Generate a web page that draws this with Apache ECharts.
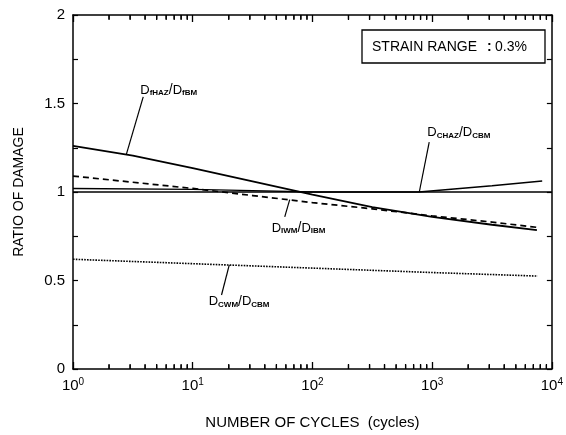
<!DOCTYPE html>
<html><head><meta charset="utf-8">
<script src="https://cdn.jsdelivr.net/npm/echarts@6/dist/echarts.min.js"></script>
<style>html,body{margin:0;padding:0;background:#fff}#c{width:566px;height:435px}</style>
</head><body><div id="c"></div>
<script>
// ---- data ----
const fHAZ_x = [1, 3.162, 10, 31.62, 100, 316.2, 1000, 3162, 7500];
const fHAZ_y = [1.26, 1.205, 1.135, 1.06, 0.985, 0.915, 0.86, 0.815, 0.785];
const IWM_x = [1, 3.162, 10, 31.62, 100, 316.2, 1000, 3162, 7600];
const IWM_y = [1.09, 1.055, 1.02, 0.98, 0.94, 0.905, 0.865, 0.83, 0.80];
const CHAZ_x = [1, 10, 31.62, 100, 316.2, 776, 3162, 8300];
const CHAZ_y = [1.02, 1.015, 1.008, 1.0, 1.0, 1.0, 1.035, 1.062];
const CWM_x = [1, 10, 100, 1000, 7600];
const CWM_y = [0.62, 0.595, 0.57, 0.545, 0.525];
const REF_x = [1, 10000];
const REF_y = [1, 1];
const xMinorTicks = [];
[1, 10, 100, 1000].forEach(d => { for (let k = 2; k <= 9; k++) xMinorTicks.push(d * k); });
const yTickLabels = ['0', '0.5', '1', '1.5', '2'];
// annotations: [anchorX, anchorY, endX, endY, textX, textY, num, den]
const annotations = [
  [2.79, 1.213, 3.86, 1.537, 6.3, 1.576, 'fHAZ', 'fBM'],
  [64.6, 0.957, 58.7, 0.859, 76.6, 0.797, 'IWM', 'IBM'],
  [20.2, 0.588, 17.4, 0.418, 24.4, 0.379, 'CWM', 'CBM'],
  [781, 1.0, 945, 1.282, 1672, 1.335, 'CHAZ', 'CBM']
];

const zip = (a, b) => a.map((v, i) => [v, b[i]]);
const FONT = 'Liberation Sans, Arial, sans-serif';
const chart = echarts.init(document.getElementById('c'));
const axisLine = { show: true, onZero: false, lineStyle: { color: '#000', width: 1.5 } };
const supFmt = v => { const e = Math.round(Math.log10(v)); return '10{s|' + e + '}'; };

chart.setOption({
  animation: false,
  backgroundColor: '#fff',
  grid: { left: 73, right: 9, top: 15, bottom: 66 },
  xAxis: [
    { type: 'log', logBase: 10, min: 1, max: 10000, position: 'bottom',
      axisLine: axisLine, splitLine: { show: false },
      axisTick: { inside: true, length: 7, lineStyle: { color: '#000', width: 1.3 } },
      axisLabel: { formatter: supFmt, margin: 8, color: '#000', fontFamily: FONT, fontSize: 15,
        rich: { s: { fontSize: 10, verticalAlign: 'top', padding: [0, 0, 8, 0], fontFamily: FONT, color: '#000' } } },
      name: 'NUMBER OF CYCLES  (cycles)', nameLocation: 'middle', nameGap: 46,
      nameTextStyle: { color: '#000', fontFamily: FONT, fontSize: 15 } },
    { type: 'log', logBase: 10, min: 1, max: 10000, position: 'top',
      axisLine: axisLine, splitLine: { show: false }, axisLabel: { show: false },
      axisTick: { inside: true, length: 7, lineStyle: { color: '#000', width: 1.3 } } }
  ],
  yAxis: [
    { type: 'value', min: 0, max: 2, interval: 0.5, position: 'left',
      axisLine: axisLine, splitLine: { show: false },
      axisTick: { inside: true, length: 5, lineStyle: { color: '#000', width: 1.2 } },
      minorTick: { show: true, splitNumber: 2, length: 5, lineStyle: { color: '#000', width: 1.2 } },
      axisLabel: { formatter: (v) => yTickLabels[Math.round(v * 2)], color: '#000', fontFamily: FONT, fontSize: 15, margin: 8 },
      name: 'RATIO OF DAMAGE', nameLocation: 'middle', nameGap: 47, nameRotate: 90,
      nameTextStyle: { color: '#000', fontFamily: FONT, fontSize: 14 } },
    { type: 'value', min: 0, max: 2, interval: 0.5, position: 'right',
      axisLine: axisLine, splitLine: { show: false }, axisLabel: { show: false },
      axisTick: { inside: true, length: 5, lineStyle: { color: '#000', width: 1.2 } },
      minorTick: { show: true, splitNumber: 2, length: 5, lineStyle: { color: '#000', width: 1.2 } } }
  ],
  series: [
    { type: 'line', data: zip(REF_x, REF_y), showSymbol: false, lineStyle: { color: '#000', width: 1.3 } },
    { type: 'line', data: zip(CHAZ_x, CHAZ_y), showSymbol: false, lineStyle: { color: '#000', width: 1.4 } },
    { type: 'line', data: zip(fHAZ_x, fHAZ_y), showSymbol: false, lineStyle: { color: '#000', width: 1.8 } },
    { type: 'line', data: zip(IWM_x, IWM_y), showSymbol: false, lineStyle: { color: '#000', width: 1.7, type: [6, 4] } },
    { type: 'line', data: zip(CWM_x, CWM_y), showSymbol: false, lineStyle: { color: '#000', width: 1.6, type: [1.6, 1.2] } },
    { type: 'line', data: [], showSymbol: false,
      markLine: { silent: true, symbol: 'none', label: { show: false },
        lineStyle: { color: '#000', width: 1.2, type: 'solid' },
        data: annotations.map(a => [{ coord: [a[0], a[1]] }, { coord: [a[2], a[3]] }]) } },
    // minor log ticks on bottom and top axes
    { type: 'custom', silent: true, clip: false, z: 5, data: xMinorTicks.map(v => [v, 0]),
      encode: { x: 0, y: 1 },
      renderItem: (params, api) => {
        const b = api.coord([api.value(0), 0]);
        const t = api.coord([api.value(0), 2]);
        const st = { stroke: '#000', lineWidth: 1.3, fill: null };
        return { type: 'group', children: [
          { type: 'line', shape: { x1: b[0], y1: b[1], x2: b[0], y2: b[1] - 5 }, style: st },
          { type: 'line', shape: { x1: t[0], y1: t[1], x2: t[0], y2: t[1] + 5 }, style: st }
        ] };
      } }
  ]
});

const graphics = [
  { type: 'rect', shape: { x: 362, y: 30, width: 183, height: 33 }, style: { fill: '#fff', stroke: '#000', lineWidth: 1.3 }, z: 10 },
  { type: 'text', x: 372, y: 47, style: { text: 'STRAIN RANGE', font: '14px ' + FONT, fill: '#000', verticalAlign: 'middle' }, z: 11 },
  { type: 'text', x: 487, y: 47, style: { text: ':', font: 'bold 14px ' + FONT, fill: '#000', verticalAlign: 'middle' }, z: 11 },
  { type: 'text', x: 495, y: 47, style: { text: '0.3%', font: '14px ' + FONT, fill: '#000', verticalAlign: 'middle' }, z: 11 }
];
// minor tick marks also as graphic lines computed from the axis scale (fallback)
xMinorTicks.forEach(v => {
  const b = chart.convertToPixel({ xAxisIndex: 0, yAxisIndex: 0 }, [v, 0]);
  const t = chart.convertToPixel({ xAxisIndex: 0, yAxisIndex: 0 }, [v, 2]);
  graphics.push({ type: 'line', z: 12, silent: true, shape: { x1: b[0], y1: b[1], x2: b[0], y2: b[1] - 4 }, style: { stroke: '#000', lineWidth: 1.2 } });
  graphics.push({ type: 'line', z: 12, silent: true, shape: { x1: t[0], y1: t[1], x2: t[0], y2: t[1] + 4 }, style: { stroke: '#000', lineWidth: 1.2 } });
});
annotations.forEach(a => {
  const p = chart.convertToPixel({ xAxisIndex: 0, yAxisIndex: 0 }, [a[4], a[5]]);
  graphics.push({ type: 'text', x: p[0], y: p[1], z: 11,
    style: { text: 'D{s|' + a[6] + '}{sl|/}D{s|' + a[7] + '}', align: 'center', verticalAlign: 'middle',
      font: '13px ' + FONT, fill: '#000',
      rich: { s: { fontSize: 8, fontWeight: 'bold', fontFamily: FONT, fill: '#000', verticalAlign: 'bottom', padding: [6, 0, 0, 0] },
              sl: { fontSize: 14, fontFamily: FONT, fill: '#000' } } } });
});
chart.setOption({ graphic: graphics });
</script></body></html>
